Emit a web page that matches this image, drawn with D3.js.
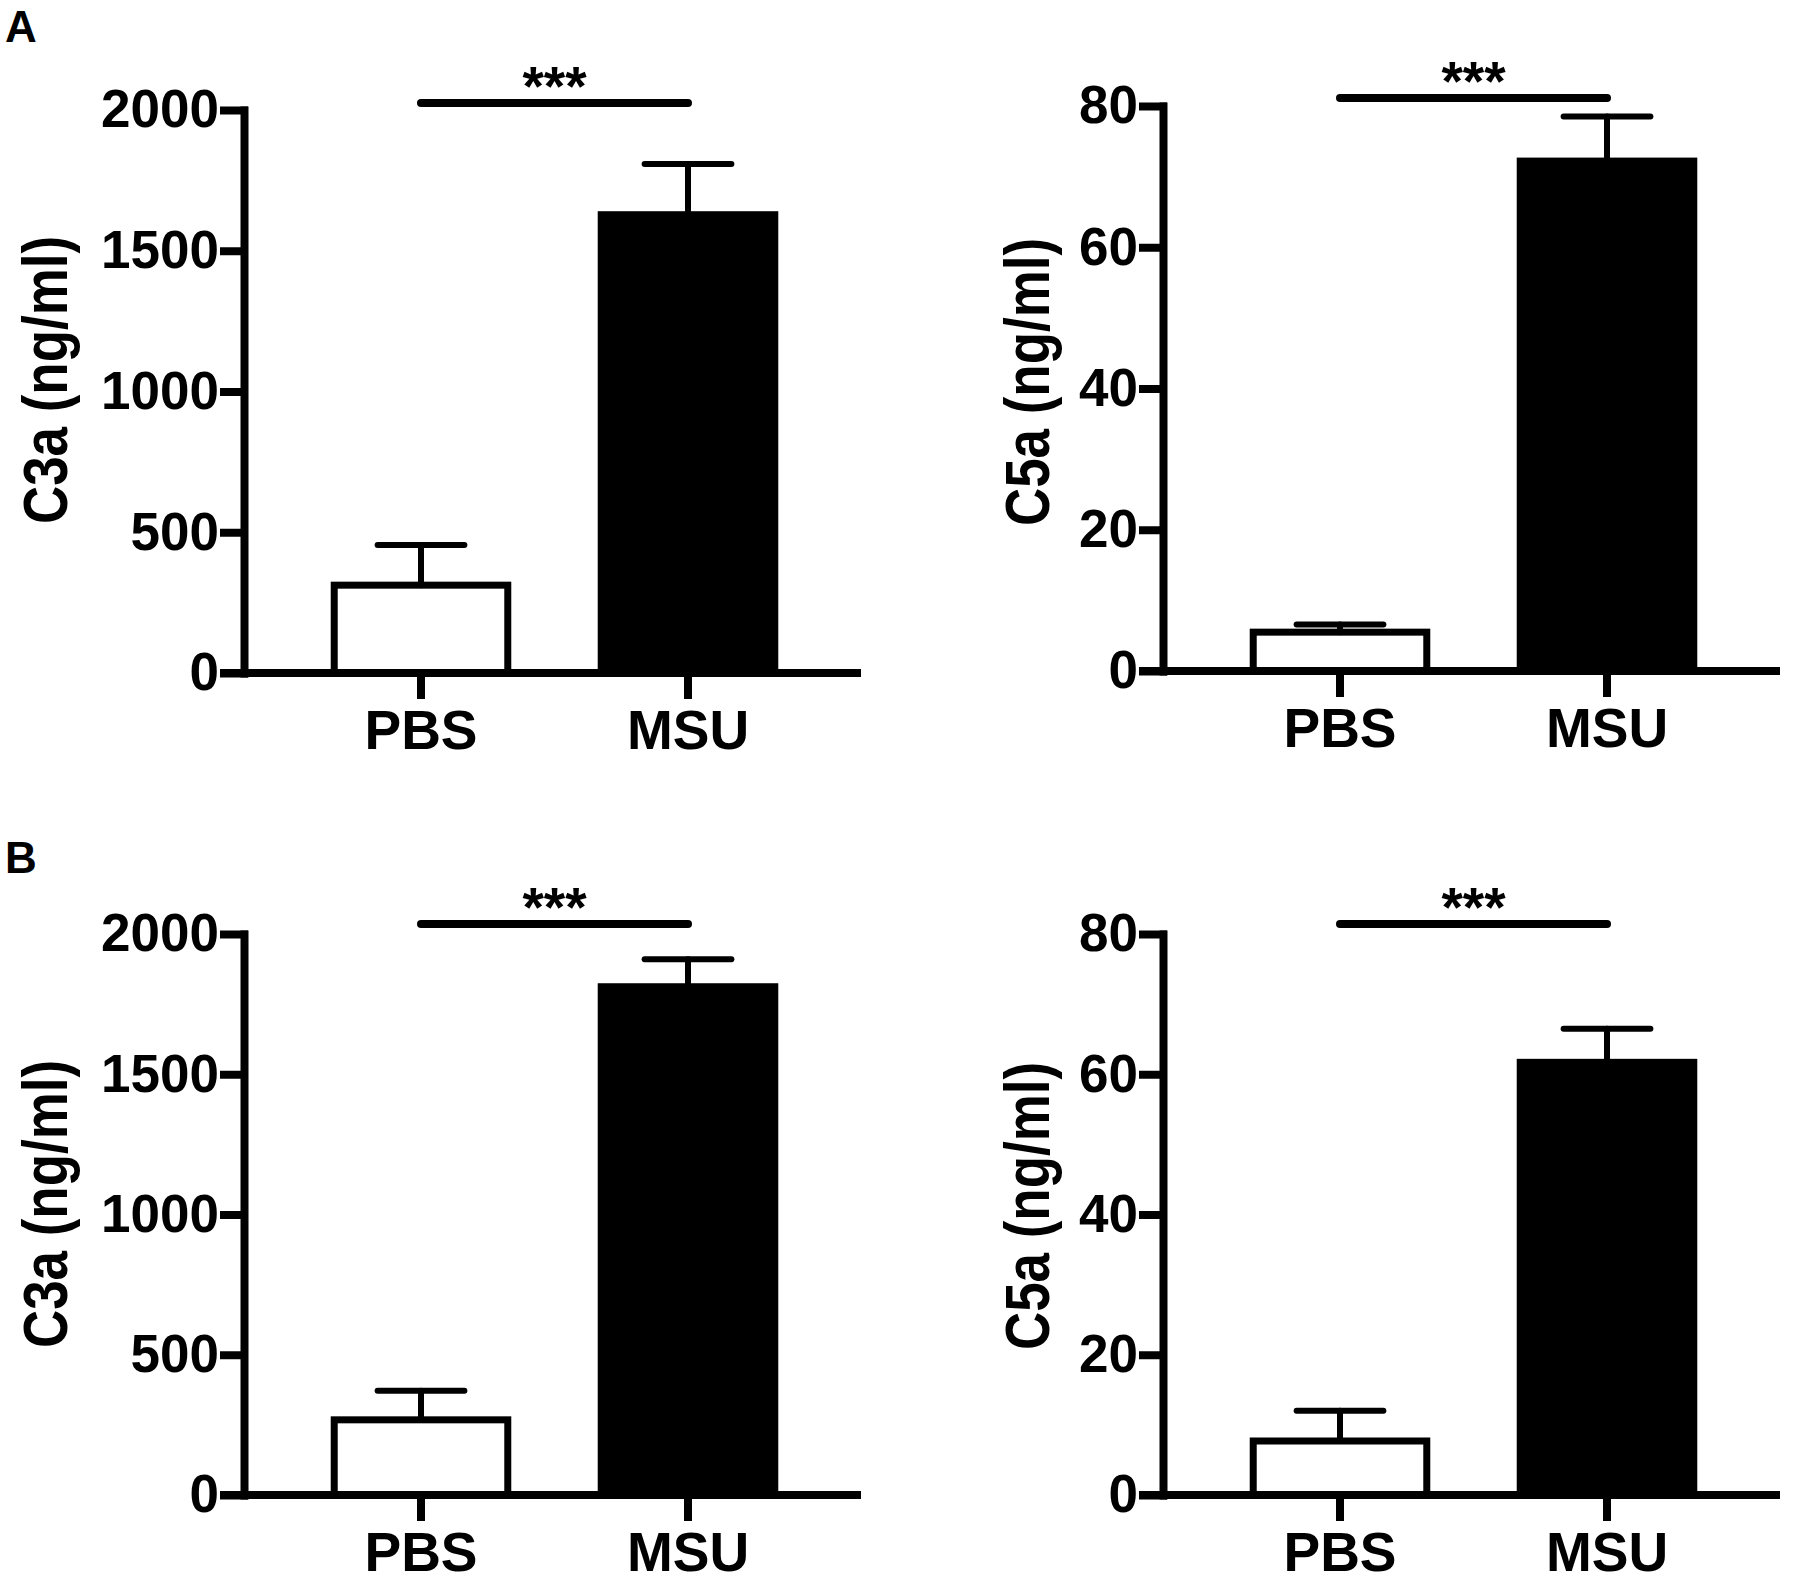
<!DOCTYPE html>
<html>
<head>
<meta charset="utf-8">
<script src="https://cdn.jsdelivr.net/npm/d3@7"></script>
<style>
  body { margin: 0; background: #fff; }
  svg { display: block; }
</style>
</head>
<body>
<div id="chart"></div>
<script>
// data (mean + SEM)
const categories = ["PBS", "MSU"];
const c3aAMean = [312, 1628];
const c3aAErr = [143, 180];
const c5aAMean = [5.5, 72.2];
const c5aAErr = [1.1, 6.3];
const c3aBMean = [268, 1812];
const c3aBErr = [104, 98];
const c5aBMean = [7.7, 61.7];
const c5aBErr = [4.3, 4.8];
const c3aTicks = [0, 500, 1000, 1500, 2000];
const c5aTicks = [0, 20, 40, 60, 80];
const sigLabel = "***";
const panelLetters = ["A", "B"];

var W = 1794, H = 1584;
var font = "'Liberation Sans', Arial, Helvetica, sans-serif";

var svg = d3.select("#chart").append("svg")
  .attr("width", W)
  .attr("height", H)
  .style("font-family", font);

// layout per panel (pixels)
var panels = [
  { title: "C3a (ng/ml)", mean: c3aAMean, err: c3aAErr, ticks: c3aTicks, ax: 244, top: 110, base: 673, sig: 103, titleX: 67, titleY: 380 },
  { title: "C5a (ng/ml)", mean: c5aAMean, err: c5aAErr, ticks: c5aTicks, ax: 1163, top: 106, base: 671, sig: 98, titleX: 1049, titleY: 382 },
  { title: "C3a (ng/ml)", mean: c3aBMean, err: c3aBErr, ticks: c3aTicks, ax: 244, top: 934, base: 1495, sig: 924, titleX: 67, titleY: 1204 },
  { title: "C5a (ng/ml)", mean: c5aBMean, err: c5aBErr, ticks: c5aTicks, ax: 1163, top: 934, base: 1495, sig: 924, titleX: 1049, titleY: 1206 }
];

function drawPanel(p) {
  var g = svg.append("g");

  var y = d3.scaleLinear()
    .domain([0, d3.max(p.ticks)])
    .range([p.base, p.top]);

  var c0 = p.ax + 177, c1 = p.ax + 444, step = c1 - c0;
  var x = d3.scaleBand()
    .domain(categories)
    .range([c0 - step / 2, c1 + step / 2])
    .paddingInner(0.35)
    .paddingOuter(0.175);
  var bw = x.bandwidth();
  var cx = d => x(d) + bw / 2;

  // bars
  g.selectAll("rect.bar")
    .data(categories)
    .join("rect")
    .attr("class", "bar")
    .attr("x", d => x(d))
    .attr("y", (d, i) => y(p.mean[i]))
    .attr("width", bw)
    .attr("height", (d, i) => p.base - y(p.mean[i]))
    .attr("fill", (d, i) => i === 0 ? "#fff" : "#000")
    .attr("stroke", "#000")
    .attr("stroke-width", 7);

  // error bars (upper only)
  var eb = g.selectAll("g.err")
    .data(categories)
    .join("g")
    .attr("class", "err")
    .attr("stroke", "#000")
    .attr("stroke-width", 6)
    .attr("stroke-linecap", "round");
  eb.append("line")
    .attr("x1", d => cx(d)).attr("x2", d => cx(d))
    .attr("y1", (d, i) => y(p.mean[i]))
    .attr("y2", (d, i) => y(p.mean[i] + p.err[i]));
  eb.append("line")
    .attr("x1", d => cx(d) - bw / 4).attr("x2", d => cx(d) + bw / 4)
    .attr("y1", (d, i) => y(p.mean[i] + p.err[i]))
    .attr("y2", (d, i) => y(p.mean[i] + p.err[i]));

  // y axis
  var ya = g.append("g")
    .attr("transform", `translate(${p.ax},0)`)
    .call(d3.axisLeft(y)
      .tickValues(p.ticks)
      .tickFormat(d3.format("d"))
      .tickSize(20)
      .tickSizeOuter(0)
      .tickPadding(5));
  ya.selectAll("path, line")
    .attr("stroke", "#000")
    .attr("stroke-width", 8)
    .attr("stroke-linecap", "square");
  ya.selectAll("text")
    .attr("fill", "#000")
    .style("font-size", "53px")
    .style("font-weight", "bold")
    .style("font-family", font);

  // x axis baseline
  g.append("line")
    .attr("x1", p.ax - 24).attr("x2", p.ax + 617)
    .attr("y1", p.base).attr("y2", p.base)
    .attr("stroke", "#000")
    .attr("stroke-width", 8);

  var xa = g.append("g")
    .attr("transform", `translate(0,${p.base})`)
    .call(d3.axisBottom(x).tickSize(26).tickSizeOuter(0).tickPadding(11));
  xa.select(".domain").remove();
  xa.selectAll("line")
    .attr("stroke", "#000")
    .attr("stroke-width", 8);
  xa.selectAll("text")
    .attr("fill", "#000")
    .style("font-size", "55px")
    .style("font-weight", "bold")
    .style("font-family", font);

  // axis title
  g.append("text")
    .attr("x", p.titleX)
    .attr("y", p.titleY)
    .attr("transform", `rotate(-90,${p.titleX},${p.titleY})`)
    .attr("text-anchor", "middle")
    .attr("textLength", 288)
    .attr("lengthAdjust", "spacingAndGlyphs")
    .style("font-size", "63px")
    .style("font-weight", "bold")
    .text(p.title);

  // significance bracket
  g.append("line")
    .attr("x1", cx(categories[0])).attr("x2", cx(categories[1]))
    .attr("y1", p.sig).attr("y2", p.sig)
    .attr("stroke", "#000")
    .attr("stroke-width", 8)
    .attr("stroke-linecap", "round");
  g.append("text")
    .attr("x", (cx(categories[0]) + cx(categories[1])) / 2)
    .attr("y", p.sig + 2)
    .attr("text-anchor", "middle")
    .style("font-size", "55px")
    .style("font-weight", "bold")
    .text(sigLabel);
}

panels.forEach(drawPanel);

// panel letters
svg.selectAll("text.letter")
  .data(panelLetters)
  .join("text")
  .attr("class", "letter")
  .attr("x", 5)
  .attr("y", (d, i) => i === 0 ? 42 : 873)
  .style("font-size", "44px")
  .style("font-weight", "bold")
  .text(d => d);
</script>
</body>
</html>
